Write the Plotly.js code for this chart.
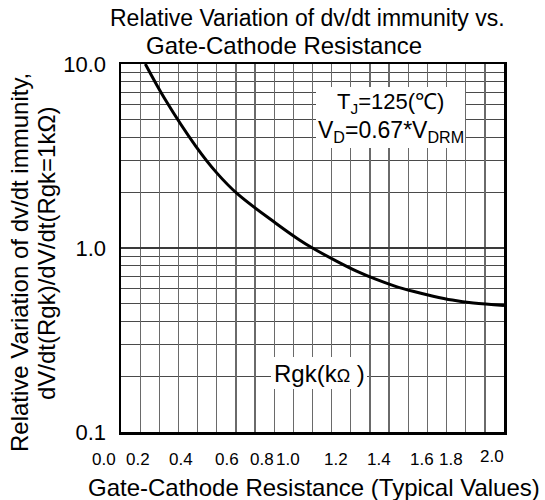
<!DOCTYPE html>
<html>
<head>
<meta charset="utf-8">
<script src="https://cdn.plot.ly/plotly-3.0.1.min.js"></script>
<style>html,body{margin:0;padding:0;background:#fff}#chart{width:545px;height:500px}</style>
</head>
<body>
<div id="chart"></div>
<script>
// Curve (Rgk in kOhm vs relative dv/dt immunity)
var rgk = [0.127, 0.23, 0.39, 0.50, 0.61, 0.81, 0.93, 1.00, 1.13, 1.23, 1.33, 1.43, 1.53, 1.63, 1.73, 1.84, 2.00];
var relDvdt = [10.0, 6.43, 3.58, 2.56, 1.96, 1.36, 1.11, 1.00, 0.844, 0.749, 0.677, 0.621, 0.580, 0.547, 0.521, 0.502, 0.487];

// Axis tick labels
var xTickLabels = ["0.0", "0.2", "0.4", "0.6", "0.8", "1.0", "1.2", "1.4", "1.6", "1.8", "2.0"];
var xTickLabelPx = [104, 138, 181, 227, 262, 288, 336, 379, 422, 451, 492]; // label centres in the reference (pixels)
var yTickVals = [0.1, 1, 10];
var yTickLabels = ["0.1", "1.0", "10.0"];
var yMinorVals = [0.2,0.3,0.4,0.5,0.6,0.7,0.8,0.9,2,3,4,5,6,7,8,9];

var FONT = '"Liberation Sans", Arial, sans-serif';
var L = 121, R = 504, T = 64, B = 432, W = 545, H = 500;
function px2x(p){ return (p - L) / (R - L); }
function py2y(p){ return (B - p) / (B - T); }

var annotations = [];
xTickLabels.forEach(function(t, i){
  annotations.push({xref:'paper', yref:'paper', x: px2x(xTickLabelPx[i]), y: py2y(t === "2.0" ? 456 : 459),
    text: t, showarrow:false, xanchor:'center', yanchor:'middle', font:{family:FONT, size:17, color:'#000'}});
});
annotations.push(
  {xref:'paper', yref:'paper', x:px2x(307), y:py2y(18), text:'Relative Variation of dv/dt immunity vs.', showarrow:false, xanchor:'center', yanchor:'middle', font:{family:FONT, size:23, color:'#000'}},
  {xref:'paper', yref:'paper', x:px2x(284), y:py2y(46), text:'Gate-Cathode Resistance', showarrow:false, xanchor:'center', yanchor:'middle', font:{family:FONT, size:24, color:'#000'}},
  {xref:'paper', yref:'paper', x:px2x(314), y:py2y(487), text:'Gate-Cathode Resistance (Typical Values)', showarrow:false, xanchor:'center', yanchor:'middle', font:{family:FONT, size:24, color:'#000'}},
  {xref:'paper', yref:'paper', x:px2x(19), y:py2y(263), text:'Relative Variation of dv/dt immunity,', textangle:-90, showarrow:false, xanchor:'center', yanchor:'middle', font:{family:FONT, size:24, color:'#000'}},
  {xref:'paper', yref:'paper', x:px2x(46), y:py2y(254), text:'dV/dt(Rgk)/dV/dt(Rgk=1kΩ)', textangle:-90, showarrow:false, xanchor:'center', yanchor:'middle', font:{family:FONT, size:24, color:'#000'}},
  {xref:'paper', yref:'paper', x:px2x(390), y:py2y(103), text:'T<sub>J</sub>=125(℃)', showarrow:false, xanchor:'center', yanchor:'middle', font:{family:FONT, size:22, color:'#000'}},
  {xref:'paper', yref:'paper', x:px2x(391), y:py2y(131), text:'V<sub>D</sub>=0.67*V<sub>DRM</sub>', showarrow:false, xanchor:'center', yanchor:'middle', font:{family:FONT, size:23, color:'#000'}},
  {xref:'paper', yref:'paper', x:px2x(319), y:py2y(373), text:'Rgk(k<span style="font-size:18px">Ω</span> )', showarrow:false, xanchor:'center', yanchor:'middle', font:{family:FONT, size:24, color:'#000'}}
);

var shapes = [
  {type:'rect', xref:'paper', yref:'paper', x0:px2x(316), x1:px2x(465), y0:py2y(148), y1:py2y(87), fillcolor:'#fff', line:{width:0}, layer:'above'},
  {type:'rect', xref:'paper', yref:'paper', x0:px2x(271), x1:px2x(367), y0:py2y(389), y1:py2y(357), fillcolor:'#fff', line:{width:0}, layer:'above'}
];

var trace = {
  x: rgk, y: relDvdt, type:'scatter', mode:'lines',
  line:{color:'#000', width:3, shape:'spline', smoothing:1},
  hoverinfo:'skip', showlegend:false, cliponaxis:true
};

var layout = {
  width: W, height: H,
  margin:{l:L, r:W-R, t:T, b:H-B, pad:0},
  paper_bgcolor:'#fff', plot_bgcolor:'#fff',
  showlegend:false,
  xaxis:{range:[0,2], dtick:0.1, tick0:0, showticklabels:false, ticks:'',
    showgrid:true, gridcolor:'#6a6a6a', gridwidth:1.3, zeroline:false,
    showline:true, mirror:true, linecolor:'#000', linewidth:2.5},
  yaxis:{type:'log', range:[-1,1], tickmode:'array', tickvals:yTickVals, ticktext:yTickLabels, ticks:'',
    ticklabelstandoff:8,
    tickfont:{family:FONT, size:22, color:'#000'},
    showgrid:true, gridcolor:'#3a3a3a', gridwidth:1.3, zeroline:false,
    minor:{tickmode:'array', tickvals:yMinorVals, showgrid:true, gridcolor:'#4a4a4a', gridwidth:1.3, ticks:''},
    showline:true, mirror:true, linecolor:'#000', linewidth:2.5},
  annotations: annotations,
  shapes: shapes
};

Plotly.newPlot('chart', [trace], layout, {displayModeBar:false, staticPlot:true});
</script>
</body>
</html>
